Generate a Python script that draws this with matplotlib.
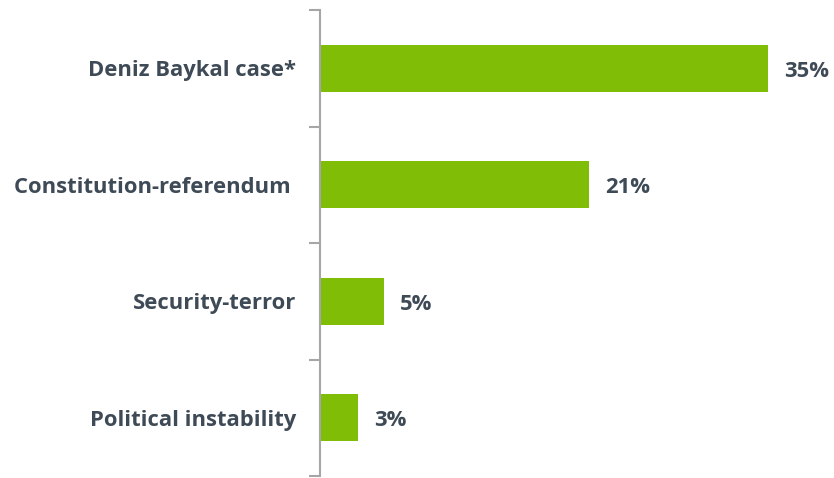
import matplotlib
matplotlib.use("Agg")
import matplotlib.pyplot as plt

categories = ["Deniz Baykal case*", "Constitution-referendum ", "Security-terror", "Political instability"]
values = [35, 21, 5, 3]
value_labels = ["35%", "21%", "5%", "3%"]

plt.rcParams['font.family'] = ['Open Sans', 'DejaVu Sans']
W, H = 834, 478
fig = plt.figure(figsize=(W/100, H/100), dpi=100)
ax = fig.add_axes([320/W, 2/H, (834-320)/W, 466/H])

green = "#7FBD06"
text_c = "#3E4A56"
axis_c = "#A6A6A6"
fs = 15.8

n = len(categories)
ypos = list(range(n))
ax.barh(ypos, values, height=0.40, color=green, zorder=2)
ax.set_ylim(n - 0.5, -0.5)
ax.set_xlim(0, (834 - 320) / 12.8)

for y, v, lab in zip(ypos, values, value_labels):
    ax.annotate(lab, (v, y), xytext=(16, -3), textcoords="offset pixels",
                va="center", ha="left", fontsize=fs, fontweight="bold", color=text_c)

ax.set_yticks([i - 0.5 for i in range(n + 1)], minor=False)
ax.set_yticklabels([])
ax.set_yticks(ypos, minor=True)
ax.set_yticklabels(categories, minor=True, fontsize=fs, fontweight="bold", color=text_c)
ax.tick_params(axis="y", which="major", length=8, width=1.5, color=axis_c, direction="out")
ax.tick_params(axis="y", which="minor", length=0, pad=17)
ax.set_xticks([])
for s in ["top", "right", "bottom"]:
    ax.spines[s].set_visible(False)
ax.spines["left"].set_color(axis_c)
ax.spines["left"].set_linewidth(1.5)

fig.savefig("out.png", dpi=100)
